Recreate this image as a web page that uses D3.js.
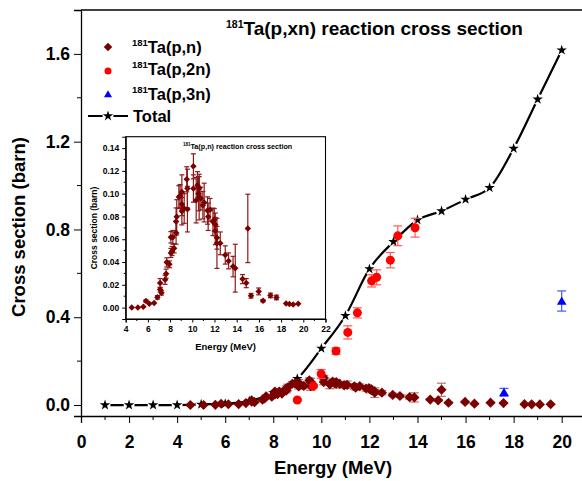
<!DOCTYPE html>
<html>
<head>
<meta charset="utf-8">
<script src="https://cdn.jsdelivr.net/npm/d3@7"></script>
<style>
  body { margin: 0; background: #fff; }
  text { font-family: "Liberation Sans", Arial, sans-serif; font-weight: bold; }
</style>
</head>
<body>
<div id="chart"></div>
<script>
// 181Ta(p,n): [energy MeV, cross section barn, error]
const pnData = [
  [4.55, 0.000, 0], [5.1, 0.000, 0], [5.59, 0.0008, 0], [5.83, 0.0058, 0.001],
  [6.13, 0.0034, 0], [6.56, 0.004, 0], [6.86, 0.009, 0.0015], [7.1, 0.0215, 0.004],
  [7.1, 0.0158, 0.002], [7.22, 0.013, 0.002], [7.55, 0.0244, 0.004], [7.64, 0.0298, 0.004],
  [7.7, 0.0397, 0.004], [7.94, 0.038, 0.003], [8.07, 0.048, 0.004], [8.07, 0.0617, 0.005],
  [8.18, 0.0497, 0.004], [8.25, 0.0617, 0.006], [8.36, 0.052, 0.004], [8.54, 0.0657, 0.01],
  [8.54, 0.0755, 0.012], [8.6, 0.0797, 0.015], [8.79, 0.097, 0.01], [8.9, 0.098, 0.01],
  [9.06, 0.1015, 0.015], [9.06, 0.0907, 0.01], [9.06, 0.0846, 0.012], [9.27, 0.087, 0.013],
  [9.5, 0.1126, 0.011], [9.56, 0.1045, 0.017], [9.56, 0.0864, 0.02], [10.1, 0.124, 0.011],
  [10.1, 0.1045, 0.012], [10.35, 0.0943, 0.02], [10.47, 0.1073, 0.012], [10.56, 0.100, 0.015],
  [10.62, 0.097, 0.02], [10.62, 0.105, 0.01], [10.77, 0.0957, 0.01], [10.95, 0.0899, 0.012],
  [11.07, 0.0922, 0.017], [11.37, 0.0852, 0.012], [11.43, 0.0797, 0.012], [11.6, 0.0858, 0.01],
  [11.86, 0.0753, 0.012], [11.98, 0.077, 0.01], [12.07, 0.073, 0.01], [12.07, 0.0672, 0.012],
  [12.22, 0.0613, 0.01], [12.22, 0.0564, 0.022], [12.52, 0.0564, 0.01], [12.97, 0.0462, 0.008],
  [13.27, 0.041, 0.007], [13.67, 0.036, 0.009], [13.87, 0.0346, 0.021], [14.53, 0.025, 0.004],
  [14.86, 0.0215, 0.004], [15.0, 0.0695, 0.03], [15.29, 0.0104, 0.002], [15.98, 0.0142, 0.003],
  [16.37, 0.006, 0.001], [17.04, 0.0107, 0.002], [17.58, 0.0089, 0.002], [18.45, 0.0037, 0],
  [18.75, 0.0031, 0], [19.09, 0.0028, 0], [19.54, 0.0034, 0]
];

// 181Ta(p,2n)
const p2nData = [
  [9.0, 0.023, 0.005], [9.67, 0.087, 0.006], [9.99, 0.142, 0.02], [10.61, 0.246, 0.015],
  [11.1, 0.331, 0.03], [11.5, 0.42, 0.023], [12.09, 0.566, 0.028], [12.3, 0.582, 0.034],
  [12.87, 0.66, 0.035], [13.18, 0.771, 0.045], [13.9, 0.808, 0.043]
];

// 181Ta(p,3n)
const p3nData = [[17.6, 0.058, 0.018], [20.0, 0.474, 0.046]];

// Total
const totalData = [
  [1, 0], [2, 0], [3, 0], [4, 0], [5, 0.003], [6, 0.006], [7, 0.018], [8, 0.055],
  [9, 0.12], [10, 0.258], [11, 0.407], [12, 0.62], [13, 0.744], [14, 0.843],
  [15, 0.884], [16, 0.937], [17, 0.99], [18, 1.169], [19, 1.393], [20, 1.617]
];

const xTicks = d3.range(0, 21, 2);
const yTicks = [0, 0.4, 0.8, 1.2, 1.6];
const insetXTicks = d3.range(4, 23, 2);
const insetYTicks = d3.range(0, 0.141, 0.02);

const W = 582, H = 481;
const svg = d3.select("#chart").append("svg").attr("width", W).attr("height", H);

const x = d3.scaleLinear().domain([0, 21]).range([81, 81 + 21 * 24.035]);
const y = d3.scaleLinear().domain([-0.05, 1.8]).range([416, 10]);

// frame
svg.append("line").attr("x1", 81).attr("x2", W).attr("y1", 10).attr("y2", 10)
  .attr("stroke", "#000").attr("stroke-width", 1.3);

const gx = svg.append("g").attr("transform", "translate(0,416)")
  .call(d3.axisBottom(x).tickValues(xTicks).tickSize(7).tickPadding(9).tickFormat(d3.format("d")));
gx.append("g").selectAll("line").data(d3.range(1, 21, 2)).join("line")
  .attr("x1", d => x(d)).attr("x2", d => x(d)).attr("y1", 0).attr("y2", 4).attr("stroke", "#000");

const gy = svg.append("g").attr("transform", "translate(81,0)")
  .call(d3.axisLeft(y).tickValues(yTicks).tickSize(7).tickPadding(4).tickFormat(d3.format(".1f")));
gy.append("g").selectAll("line").data([0.2, 0.6, 1.0, 1.4]).join("line")
  .attr("y1", d => y(d)).attr("y2", d => y(d)).attr("x1", 0).attr("x2", -4).attr("stroke", "#000");

[gx, gy].forEach(g => {
  g.select(".domain").attr("stroke-width", 1.3);
  g.selectAll("text").attr("font-size", 17.5).attr("fill", "#000")
    .style("font-family", "Liberation Sans, Arial, sans-serif").style("font-weight", "bold");
});
gx.selectAll(".tick text").attr("dy", "0.9em");

svg.append("text").attr("x", 333).attr("y", 474).attr("text-anchor", "middle")
  .attr("font-size", 18.5).text("Energy (MeV)");
svg.append("text").attr("transform", "translate(25,227) rotate(-90)").attr("text-anchor", "middle")
  .attr("font-size", 18.5).text("Cross section (barn)");

// title
const title = svg.append("text").attr("x", 226).attr("y", 35).attr("font-size", 19);
title.append("tspan").attr("font-size", 10.5).attr("dy", -7).text("181");
title.append("tspan").attr("dy", 7).text("Ta(p,xn) reaction cross section");

// markers
const diamond = s => d3.symbol(d3.symbolSquare, s * s)();
const tri = d3.symbol(d3.symbolTriangle, 40)();
const star = d3.symbol(d3.symbolStar, 34)();

function errBars(g, data, sx, sy, color, cap, opacity) {
  const e = g.append("g").attr("stroke", color).attr("stroke-width", 1.2).attr("opacity", opacity)
    .selectAll("g").data(data.filter(d => d[2] > 0)).join("g");
  e.append("line").attr("x1", d => sx(d[0])).attr("x2", d => sx(d[0]))
    .attr("y1", d => sy(d[1] - d[2])).attr("y2", d => sy(d[1] + d[2]));
  [-1, 1].forEach(k => e.append("line")
    .attr("x1", d => sx(d[0]) - cap).attr("x2", d => sx(d[0]) + cap)
    .attr("y1", d => sy(d[1] + k * d[2])).attr("y2", d => sy(d[1] + k * d[2])));
}

// Total line with gaps around stars
const line = d3.line().x(d => x(d[0])).y(d => y(d[1])).curve(d3.curveMonotoneX);
svg.append("path").datum(totalData).attr("d", line).attr("fill", "none")
  .attr("stroke", "#000").attr("stroke-width", 2.2);
svg.append("g").selectAll("circle").data(totalData).join("circle")
  .attr("cx", d => x(d[0])).attr("cy", d => y(d[1])).attr("r", 5.5).attr("fill", "#fff");
svg.append("g").selectAll("path").data(totalData).join("path")
  .attr("d", star).attr("transform", d => `translate(${x(d[0])},${y(d[1])})`).attr("fill", "#000");

// (p,n)
errBars(svg, pnData, x, y, "#a03a3a", 4.5, 0.7);
svg.append("g").selectAll("path").data(pnData).join("path")
  .attr("d", diamond(7.2)).attr("transform", d => `translate(${x(d[0])},${y(d[1])}) rotate(45)`)
  .attr("fill", "#7b0000");

// (p,2n)
errBars(svg, p2nData, x, y, "#ff5a5a", 4.5, 1);
svg.append("g").selectAll("circle").data(p2nData).join("circle")
  .attr("cx", d => x(d[0])).attr("cy", d => y(d[1])).attr("r", 4.5).attr("fill", "#ff0000");

// (p,3n)
errBars(svg, p3nData, x, y, "#3a5aff", 4.5, 1);
svg.append("g").selectAll("path").data(p3nData).join("path")
  .attr("d", tri).attr("transform", d => `translate(${x(d[0])},${y(d[1]) + 1})`).attr("fill", "#0000ff");

// legend
const leg = svg.append("g");
const legRows = [
  {label: "Ta(p,n)", y: 53},
  {label: "Ta(p,2n)", y: 75},
  {label: "Ta(p,3n)", y: 100}
];
leg.append("path").attr("d", diamond(6)).attr("transform", "translate(108,47) rotate(45)").attr("fill", "#7b0000");
leg.append("circle").attr("cx", 108).attr("cy", 71).attr("r", 3.5).attr("fill", "#ff0000");
leg.append("path").attr("d", d3.symbol(d3.symbolTriangle, 28)()).attr("transform", "translate(108,95)").attr("fill", "#0000ff");
legRows.forEach(r => {
  const t = leg.append("text").attr("x", 132).attr("y", r.y).attr("font-size", 16.5);
  t.append("tspan").attr("font-size", 9.5).attr("dy", -7).text("181");
  t.append("tspan").attr("dy", 7).text(r.label);
});
leg.append("line").attr("x1", 88).attr("x2", 128).attr("y1", 116).attr("y2", 116)
  .attr("stroke", "#000").attr("stroke-width", 2.2);
leg.append("circle").attr("cx", 108).attr("cy", 116).attr("r", 5.5).attr("fill", "#fff");
leg.append("path").attr("d", star).attr("transform", "translate(108,116)").attr("fill", "#000");
leg.append("text").attr("x", 133).attr("y", 121.5).attr("font-size", 16.5).text("Total");

// inset
const ix = d3.scaleLinear().domain([4, 22]).range([125.7, 325.5]);
const iy = d3.scaleLinear().domain([-0.01, 0.15]).range([319, 136.7]);
const inset = svg.append("g");
inset.append("rect").attr("x", 125.7).attr("y", 136.7).attr("width", 325.5 - 125.7).attr("height", 319 - 136.7)
  .attr("fill", "#fff").attr("stroke", "#000").attr("stroke-width", 1.1);

const igx = inset.append("g").attr("transform", "translate(0,319)")
  .call(d3.axisBottom(ix).tickValues(insetXTicks).tickSize(3.5).tickPadding(3).tickFormat(d3.format("d")));
igx.append("g").selectAll("line").data(d3.range(5, 22, 2)).join("line")
  .attr("x1", d => ix(d)).attr("x2", d => ix(d)).attr("y1", 0).attr("y2", 2).attr("stroke", "#000");
const igy = inset.append("g").attr("transform", "translate(125.7,0)")
  .call(d3.axisLeft(iy).tickValues(insetYTicks).tickSize(3.5).tickPadding(3).tickFormat(d3.format(".2f")));
igy.append("g").selectAll("line").data(d3.range(0.01, 0.15, 0.02)).join("line")
  .attr("y1", d => iy(d)).attr("y2", d => iy(d)).attr("x1", 0).attr("x2", -2).attr("stroke", "#000");
[igx, igy].forEach(g => {
  g.select(".domain").attr("stroke-width", 1.1);
  g.selectAll("text").attr("font-size", 8.5).attr("fill", "#000")
    .style("font-family", "Liberation Sans, Arial, sans-serif").style("font-weight", "bold");
});

inset.append("text").attr("x", 225.6).attr("y", 350).attr("text-anchor", "middle")
  .attr("font-size", 9.5).text("Energy (MeV)");
inset.append("text").attr("transform", "translate(97,228) rotate(-90)").attr("text-anchor", "middle")
  .attr("font-size", 8.5).text("Cross section (barn)");
const it = inset.append("text").attr("x", 183).attr("y", 148.5).attr("font-size", 7.2);
it.append("tspan").attr("font-size", 4.5).attr("dy", -3).text("181");
it.append("tspan").attr("dy", 3).text("Ta(p,n) reaction cross section");

errBars(inset, pnData, ix, iy, "#8b1a1a", 2.5, 1);
inset.append("g").selectAll("path").data(pnData).join("path")
  .attr("d", diamond(4.6)).attr("transform", d => `translate(${ix(d[0])},${iy(d[1])}) rotate(45)`)
  .attr("fill", "#7b0000");
</script>
</body>
</html>
